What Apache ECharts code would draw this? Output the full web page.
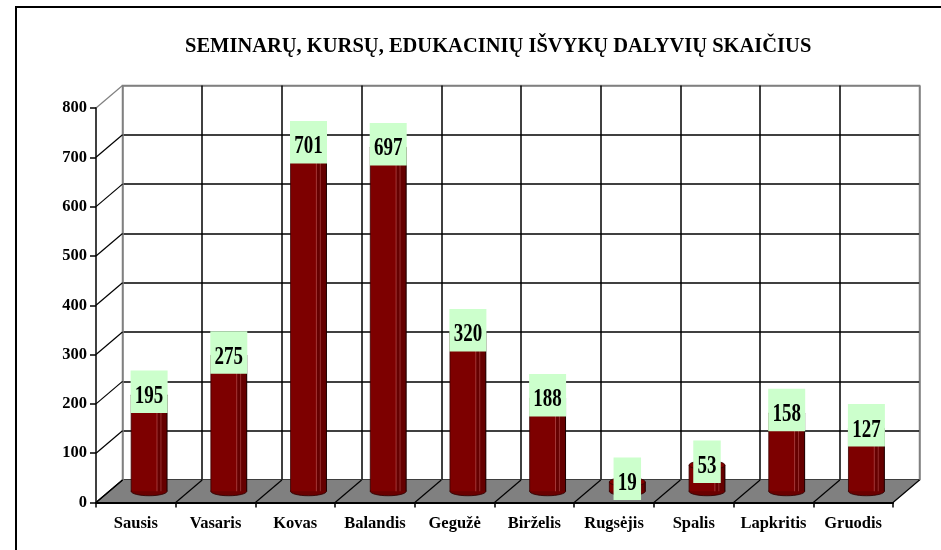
<html>
<head>
    <meta http-equiv="Content-Type" content="text/html; charset=utf-8" />
    <script type="text/javascript" src="https://cdn.jsdelivr.net/npm/echarts@6/dist/echarts.min.js"></script>
    <style>
        html, body { margin: 0; padding: 0; background: #fff; }
    </style>
</head>
<body>
<div id="main" style="width: 941px;height:550px;"></div>

<script type="text/javascript">
    // duomenys
    var titleText = 'SEMINARŲ, KURSŲ, EDUKACINIŲ IŠVYKŲ DALYVIŲ SKAIČIUS';
    var months = ['Sausis', 'Vasaris', 'Kovas', 'Balandis', 'Gegužė', 'Birželis', 'Rugsėjis', 'Spalis', 'Lapkritis', 'Gruodis'];
    var participants = [195, 275, 701, 697, 320, 188, 19, 53, 158, 127];
    var yTicks = [0, 100, 200, 300, 400, 500, 600, 700, 800];

    // 3D gylio poslinkis (px)
    var DX = 26.5, DY = -22.5;
    var FONT = '"Liberation Serif", "Times New Roman", serif';

    var myChart = echarts.init(document.getElementById('main'));

    function wallLineColors(n) {
        var arr = [];
        for (var i = 0; i < n; i++) arr.push('#000');
        return arr;
    }
    var ySplitColors = wallLineColors(yTicks.length);
    ySplitColors[yTicks.length - 1] = '#808080';
    var xSplitColors = wallLineColors(months.length + 1);
    xSplitColors[0] = '#808080';
    xSplitColors[months.length] = '#808080';

    // grindys
    function renderFloor(params, api) {
        var i = api.value(0);
        var c = api.coord([i, 0]);
        var bw = api.size([1, 0])[0];
        var x0 = c[0] - bw / 2, x1 = c[0] + bw / 2, y = c[1];
        var children = [{
            type: 'polygon',
            shape: { points: [[x0, y], [x1, y], [x1 + DX, y + DY], [x0 + DX, y + DY]] },
            style: { fill: '#808080', stroke: '#808080', lineWidth: 0.5 }
        }, {
            type: 'line',
            shape: { x1: x0, y1: y, x2: x0 + DX, y2: y + DY },
            style: { stroke: '#000', lineWidth: 1.2 }
        }];
        if (i === months.length - 1) {
            children.push({
                type: 'line',
                shape: { x1: x1, y1: y, x2: x1 + DX, y2: y + DY },
                style: { stroke: '#000', lineWidth: 1.2 }
            });
        }
        return { type: 'group', children: children };
    }

    // šoninės sienos linijos
    function renderSide(params, api) {
        var v = api.value(1);
        var y = api.coord([0, v])[1];
        var x = params.coordSys.x;
        return {
            type: 'line',
            shape: { x1: x, y1: y, x2: x + DX, y2: y + DY },
            style: { stroke: v === yTicks[yTicks.length - 1] ? '#808080' : '#000', lineWidth: 1.2 }
        };
    }

    // cilindrai + etiketės
    function renderBar(params, api) {
        var i = api.value(0), v = api.value(1);
        var c = api.coord([i, v]);
        var b = api.coord([i, 0]);
        var bw = api.size([1, 0])[0];
        var w = bw * 0.45, rx = w / 2, ry = 4.5;
        var cx = c[0] + DX / 2, top = c[1] + DY / 2, base = b[1] + DY / 2;
        var h = base - top;
        var txt = String(v);
        var boxW = txt.length * 9.5 + 8.5;
        return {
            type: 'group',
            children: [
                { type: 'ellipse', shape: { cx: cx, cy: base, rx: rx, ry: ry },
                  style: { fill: '#6a0000', stroke: '#2a0000', lineWidth: 0.8 } },
                { type: 'rect', shape: { x: cx - rx, y: top, width: w, height: h },
                  style: { fill: '#7d0000' } },
                { type: 'rect', shape: { x: cx + w * 0.22, y: top, width: rx - w * 0.22, height: h },
                  style: { fill: '#650000' } },
                { type: 'line', shape: { x1: cx + w * 0.22, y1: top, x2: cx + w * 0.22, y2: base },
                  style: { stroke: '#b04444', lineWidth: 0.8 } },
                { type: 'line', shape: { x1: cx + w * 0.33, y1: top, x2: cx + w * 0.33, y2: base },
                  style: { stroke: '#a03a3a', lineWidth: 0.8 } },
                { type: 'line', shape: { x1: cx + rx, y1: top, x2: cx + rx, y2: base },
                  style: { stroke: '#1a0000', lineWidth: 1 } },
                { type: 'line', shape: { x1: cx - rx, y1: top, x2: cx - rx, y2: base },
                  style: { stroke: '#3a0000', lineWidth: 0.8 } },
                { type: 'ellipse', shape: { cx: cx, cy: top, rx: rx, ry: ry },
                  style: { fill: '#820000', stroke: '#300000', lineWidth: 0.8 } },
                { type: 'rect', shape: { x: cx - boxW / 2, y: top - 24.5, width: boxW, height: 42.5 },
                  style: { fill: '#CCFFCC' } },
                { type: 'text', x: cx, y: top + 1.5, scaleY: 1.3,
                  style: { text: txt, fill: '#000', font: 'bold 19px ' + FONT,
                           align: 'center', verticalAlign: 'middle' } }
            ]
        };
    }

    var option = {
        animation: false,
        title: {
            text: titleText,
            left: 180,
            top: 31,
            textStyle: { fontFamily: FONT, fontWeight: 'bold', fontSize: 20.5, color: '#000' }
        },
        graphic: [{
            type: 'rect',
            shape: { x: 16, y: 7, width: 1000, height: 1000 },
            style: { fill: 'none', stroke: '#000', lineWidth: 2 },
            z: 100
        }],
        grid: [
            // priekinė plokštuma
            { left: 96, right: 48, top: 108, bottom: 47.5 },
            // galinė siena
            { left: 96 + DX, right: 48 - DX, top: 108 + DY, bottom: 47.5 - DY,
              show: true, borderColor: '#808080', borderWidth: 1.5, backgroundColor: '#fff' }
        ],
        xAxis: [{
            type: 'category',
            gridIndex: 0,
            data: months,
            z: 10,
            axisLine: { lineStyle: { color: '#000', width: 2 } },
            axisTick: { show: true, interval: 0, length: 5, lineStyle: { color: '#000', width: 1.5 } },
            axisLabel: { interval: 0, margin: 13, color: '#000', fontFamily: FONT, fontWeight: 'bold', fontSize: 16.5 },
            splitLine: { show: false }
        }, {
            type: 'category',
            gridIndex: 1,
            data: months,
            axisLine: { show: false },
            axisTick: { show: false },
            axisLabel: { show: false },
            splitLine: { show: true, interval: 0, lineStyle: { color: xSplitColors, width: 1.5 } }
        }],
        yAxis: [{
            type: 'value',
            gridIndex: 0,
            min: 0, max: 800, interval: 100,
            z: 10,
            axisLine: { show: true, lineStyle: { color: '#000', width: 1.5 } },
            axisTick: { show: true, length: 6, lineStyle: { color: '#000', width: 1.5 } },
            axisLabel: { margin: 9, color: '#000', fontFamily: FONT, fontWeight: 'bold', fontSize: 16.5 },
            splitLine: { show: false }
        }, {
            type: 'value',
            gridIndex: 1,
            min: 0, max: 800, interval: 100,
            axisLine: { show: false },
            axisTick: { show: false },
            axisLabel: { show: false },
            splitLine: { show: true, lineStyle: { color: ySplitColors, width: 1.5 } }
        }],
        series: [{
            type: 'custom',
            name: 'grindys',
            xAxisIndex: 0, yAxisIndex: 0,
            z: 1,
            silent: true,
            renderItem: renderFloor,
            data: months.map(function (m, i) { return [i, 0]; })
        }, {
            type: 'custom',
            name: 'siena',
            xAxisIndex: 0, yAxisIndex: 0,
            z: 2,
            silent: true,
            renderItem: renderSide,
            data: yTicks.map(function (v) { return [0, v]; })
        }, {
            type: 'custom',
            name: 'Dalyviai',
            xAxisIndex: 0, yAxisIndex: 0,
            z: 3,
            renderItem: renderBar,
            data: participants.map(function (v, i) { return [i, v]; })
        }]
    };

    myChart.setOption(option);
</script>
</body>
</html>
